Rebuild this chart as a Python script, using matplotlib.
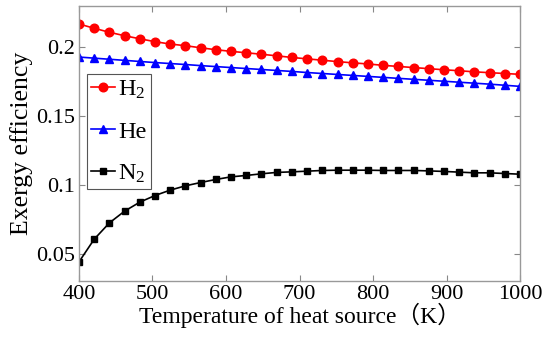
import numpy as np
import matplotlib
matplotlib.use('Agg')
import matplotlib.pyplot as plt

plt.rcParams['font.family'] = ['Liberation Serif', 'Noto Sans CJK SC']
plt.rcParams['mathtext.fontset'] = 'custom'
plt.rcParams['mathtext.rm'] = 'Liberation Serif'
plt.rcParams['mathtext.it'] = 'Liberation Serif'

# heat source temperature grid (30 points, 400..1000 K)
temp = np.linspace(400, 1000, 30)

h2 = [0.2163, 0.2132, 0.2103, 0.2078, 0.2056, 0.2035, 0.2018, 0.2006, 0.1991, 0.1977,
      0.1965, 0.1955, 0.1944, 0.1933, 0.1921, 0.1911, 0.1901, 0.1891, 0.1882, 0.1874,
      0.1864, 0.1856, 0.1848, 0.1840, 0.1832, 0.1825, 0.1817, 0.1811, 0.1805, 0.1799]
he = [0.1924, 0.1916, 0.1908, 0.1900, 0.1892, 0.1884, 0.1877, 0.1870, 0.1862, 0.1855,
      0.1848, 0.1841, 0.1834, 0.1827, 0.1820, 0.1812, 0.1805, 0.1798, 0.1791, 0.1784,
      0.1777, 0.1770, 0.1763, 0.1756, 0.1749, 0.1742, 0.1735, 0.1728, 0.1720, 0.1712]
n2 = [0.0443, 0.0607, 0.0725, 0.0810, 0.0875, 0.0923, 0.0962, 0.0993, 0.1017, 0.1039,
      0.1058, 0.1068, 0.1080, 0.1090, 0.1094, 0.1099, 0.1104, 0.1106, 0.1106, 0.1106,
      0.1104, 0.1104, 0.1104, 0.1101, 0.1097, 0.1092, 0.1087, 0.1087, 0.1082, 0.1077]

xticks = [400, 500, 600, 700, 800, 900, 1000]
yticks = [0.05, 0.1, 0.15, 0.2]
ytick_labels = ['0.05', '0.1', '0.15', '0.2']

fig = plt.figure(figsize=(5.5, 3.39), dpi=100)
ax = fig.add_axes([0.1436, 0.1711, 0.8019, 0.8112])

ax.plot(temp, h2, '-o', color='red', mfc='red', mec='red', ms=6.2, lw=1.2, label=r'H$_2$')
ax.plot(temp, he, '-^', color='blue', mfc='blue', mec='blue', ms=6.2, lw=1.2, label='He')
ax.plot(temp, n2, '-s', color='black', mfc='black', mec='black', ms=4.8, lw=1.2, label=r'N$_2$')

ax.set_xlim(400, 1000)
ax.set_ylim(0.0305, 0.2293)
ax.set_xticks(xticks)
ax.set_yticks(yticks)
ax.set_yticklabels(ytick_labels)
ax.tick_params(direction='in', top=True, right=True, labelsize=16, length=4,
               color='#888888', pad=3)
for s in ax.spines.values():
    s.set_color('#999999')
    s.set_linewidth(1.0)

ax.set_xlabel('Temperature of heat source（K）', fontsize=17, labelpad=-1)
ax.set_ylabel('Exergy efficiency', fontsize=18.5, labelpad=2)

leg = ax.legend(loc='upper left', bbox_to_anchor=(0.0175, 0.752), borderaxespad=0,
                fontsize=17.5, fancybox=False, framealpha=1, edgecolor='#555555',
                handlelength=1.0, handletextpad=0.12, labelspacing=0.82,
                borderpad=0.17)
leg.get_frame().set_linewidth(0.8)

fig.savefig('out.png', dpi=100)
